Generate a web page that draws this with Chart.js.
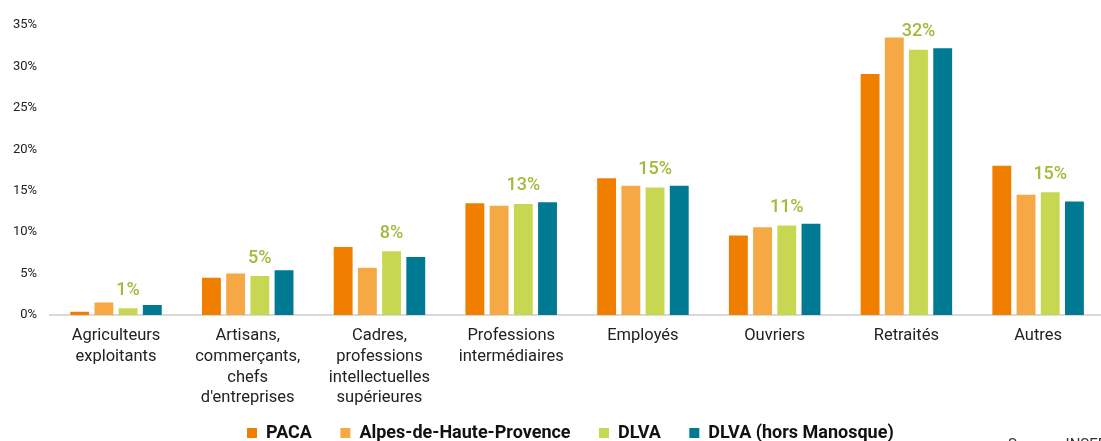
<!DOCTYPE html>
<html lang="fr">
<head>
<meta charset="utf-8">
<title>Catégories socioprofessionnelles</title>
<script src="https://cdn.jsdelivr.net/npm/chart.js@4.4.1/dist/chart.umd.min.js"></script>
<style>
  html, body { margin: 0; padding: 0; background: #fff; overflow: hidden; height: 441px; }
  #wrap { position: relative; width: 1104px; height: 452px; }
  #source { position: absolute; left: 1008px; top: 435px; font: 15px Roboto, sans-serif; color: #333; white-space: nowrap; }
</style>
</head>
<body>
<div id="wrap">
  <canvas id="cspChart"></canvas>
  <div id="source">Source : INSEE</div>
</div>
<script>
  // categories (multi-line labels, as in the original)
  const categories = [
    ['Agriculteurs', 'exploitants'],
    ['Artisans,', 'commerçants,', 'chefs', "d'entreprises"],
    ['Cadres,', 'professions', 'intellectuelles', 'supérieures'],
    ['Professions', 'intermédiaires'],
    ['Employés'],
    ['Ouvriers'],
    ['Retraités'],
    ['Autres']
  ];

  // share of population (%)
  const paca     = [0.4, 4.5, 8.2, 13.5, 16.5, 9.6, 29.1, 18.0];
  const alpes    = [1.5, 5.0, 5.7, 13.2, 15.6, 10.6, 33.5, 14.5];
  const dlva     = [0.8, 4.7, 7.7, 13.4, 15.4, 10.8, 32.0, 14.8];
  const dlvaHors = [1.2, 5.4, 7.0, 13.6, 15.6, 11.0, 32.2, 13.7];

  const yTicks = [0, 5, 10, 15, 20, 25, 30, 35];

  // draws the rounded DLVA value above each DLVA bar
  const dlvaLabels = {
    id: 'dlvaLabels',
    afterDatasetsDraw(chart) {
      const ctx = chart.ctx;
      const meta = chart.getDatasetMeta(2);
      ctx.save();
      ctx.fillStyle = '#a6b83a';
      ctx.font = '500 18px Roboto, sans-serif';
      ctx.textAlign = 'center';
      ctx.textBaseline = 'middle';
      meta.data.forEach(function(bar, i) {
        ctx.fillText(Math.round(dlva[i]) + '%', bar.x, bar.y - 18);
      });
      ctx.restore();
    }
  };

  const ctx = document.getElementById('cspChart').getContext('2d');
  const cspChart = new Chart(ctx, {
    type: 'bar',
    data: {
      labels: categories,
      datasets: [
        { label: 'PACA', data: paca, backgroundColor: '#f07f00' },
        { label: 'Alpes-de-Haute-Provence', data: alpes, backgroundColor: '#f5a843' },
        { label: 'DLVA', data: dlva, backgroundColor: '#c8d752' },
        { label: 'DLVA (hors Manosque)', data: dlvaHors, backgroundColor: '#007a92' }
      ]
    },
    options: {
      responsive: true,
      maintainAspectRatio: false,
      animation: false,
      layout: { padding: { top: 25, left: 0, right: 0, bottom: 0 } },
      datasets: {
        bar: { categoryPercentage: 0.735, barPercentage: 0.78 }
      },
      scales: {
        x: {
          grid: { display: false, drawTicks: false },
          border: { display: true, color: '#d9d9d9', width: 2 },
          ticks: {
            color: '#222',
            font: { family: 'Roboto', size: 16.5, lineHeight: 1.25 },
            maxRotation: 0,
            autoSkip: false,
            padding: 11
          },
          afterFit: function(axis) { axis.height = 94; }
        },
        y: {
          min: 0,
          max: 35,
          grid: { display: false, drawTicks: false },
          border: { display: false },
          afterBuildTicks: function(axis) {
            axis.ticks = yTicks.map(v => ({ value: v }));
          },
          ticks: {
            color: '#222',
            font: { family: 'Roboto', size: 13 },
            padding: 13,
            callback: v => v + '%'
          }
        }
      },
      plugins: {
        legend: {
          position: 'bottom',
          fullSize: false,
          labels: {
            color: '#111',
            font: { family: 'Roboto', size: 18, weight: 'bold' },
            boxWidth: 10,
            boxHeight: 10,
            padding: 15,
            // trailing spaces widen the gap between items without moving the row down
            generateLabels: function(chart) {
              return chart.data.datasets.map(function(dataset, i) {
                return {
                  text: dataset.label + '   ',
                  fillStyle: dataset.backgroundColor,
                  strokeStyle: dataset.backgroundColor,
                  lineWidth: 0,
                  fontColor: '#111',
                  hidden: !chart.isDatasetVisible(i),
                  datasetIndex: i
                };
              });
            }
          }
        },
        tooltip: { enabled: false }
      }
    },
    plugins: [dlvaLabels]
  });
</script>
</body>
</html>
